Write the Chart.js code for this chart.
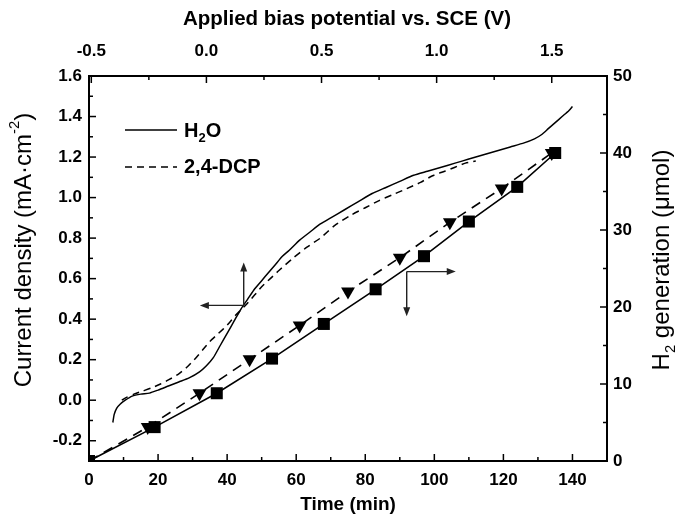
<!DOCTYPE html>
<html>
<head>
<meta charset="utf-8">
<script src="https://cdn.jsdelivr.net/npm/chart.js@4.4.0/dist/chart.umd.min.js"></script>
<style>
html, body { margin: 0; padding: 0; background: #fff; }
</style>
</head>
<body>
<canvas id="chart" width="677" height="517"></canvas>
<script>
// current density curves (mA/cm2) vs time (min)
const h2oTime = [6.9, 7.3, 8, 9, 10.5, 12.5, 15, 17.5, 20, 23, 26, 29, 32, 34, 36, 38, 40, 42, 44, 46, 48, 50, 52, 54, 56, 58, 61, 64, 67, 70, 74, 78, 82, 86, 90, 94, 98, 102, 106, 110, 114, 118, 122, 126, 129, 131, 133, 135, 137, 139, 140];
const h2oCurrent = [-0.11, -0.07, -0.04, -0.02, 0.0, 0.02, 0.03, 0.035, 0.05, 0.07, 0.09, 0.11, 0.14, 0.17, 0.21, 0.27, 0.33, 0.39, 0.45, 0.50, 0.55, 0.59, 0.63, 0.67, 0.71, 0.74, 0.79, 0.83, 0.87, 0.90, 0.94, 0.98, 1.02, 1.05, 1.08, 1.11, 1.13, 1.15, 1.17, 1.19, 1.21, 1.23, 1.25, 1.27, 1.29, 1.31, 1.34, 1.37, 1.40, 1.43, 1.45];

const dcpTime = [9.5, 11, 13, 15.5, 18, 20.7, 23, 26, 28.5, 31, 33, 35, 37.5, 40, 42.5, 45.4, 48, 50, 52.5, 55, 59, 63, 67, 71, 75.5, 80, 84, 88, 92, 96, 99.5, 103, 106, 109, 112];
const dcpCurrent = [0.0, 0.015, 0.03, 0.045, 0.06, 0.08, 0.10, 0.13, 0.165, 0.21, 0.25, 0.29, 0.33, 0.37, 0.42, 0.47, 0.52, 0.56, 0.60, 0.64, 0.70, 0.754, 0.80, 0.86, 0.91, 0.95, 0.985, 1.015, 1.044, 1.075, 1.108, 1.13, 1.15, 1.17, 1.18];

// H2 generation (umol)
const h2oGasTime = [0, 19, 37, 53, 68, 83, 97, 110, 124, 135];
const h2oGas = [0, 4.4, 8.8, 13.3, 17.8, 22.3, 26.6, 31.1, 35.6, 40.0];
const dcpGasTime = [0, 17, 32, 46.5, 61, 75, 90, 104.5, 119.5, 134];
const dcpGas = [0, 4.4, 8.8, 13.2, 17.6, 22.0, 26.4, 31.0, 35.4, 40.0];

// axis ticks
const timeTicks = [0, 20, 40, 60, 80, 100, 120, 140];
const timeMinor = [10, 30, 50, 70, 90, 110, 130, 150];
const biasTicks = [-0.5, 0.0, 0.5, 1.0, 1.5];
const biasMinor = [-0.25, 0.25, 0.75, 1.25];
const currentTicks = [-0.2, 0.0, 0.2, 0.4, 0.6, 0.8, 1.0, 1.2, 1.4, 1.6];
const currentMinor = [-0.1, 0.1, 0.3, 0.5, 0.7, 0.9, 1.1, 1.3, 1.5];
const gasTicks = [0, 10, 20, 30, 40, 50];
const gasMinor = [5, 15, 25, 35, 45];

const FONT = "'Liberation Sans', Arial, sans-serif";

function pairs(xs, ys) {
    return xs.map((x, i) => ({ x: x, y: ys[i] }));
}

function fixTicks(list) {
    return scale => { scale.ticks = list.map(v => ({ value: v })); };
}

// draws text pieces with sub/superscripts, centred on (x, y)
function drawRuns(ctx, runs, x, y, size, weight, angle) {
    ctx.save();
    ctx.translate(x, y);
    ctx.rotate(angle || 0);
    ctx.textBaseline = 'middle';
    ctx.textAlign = 'left';
    ctx.fillStyle = '#000';
    let total = 0;
    runs.forEach(r => {
        const s = r.s ? size * 0.62 : size;
        ctx.font = `${weight} ${s}px ${FONT}`;
        r.w = ctx.measureText(r.t).width;
        total += r.w;
    });
    let cx = -total / 2;
    runs.forEach(r => {
        const s = r.s ? size * 0.62 : size;
        ctx.font = `${weight} ${s}px ${FONT}`;
        let dy = 0;
        if (r.s === 'sub') dy = size * 0.35;
        if (r.s === 'sup') dy = -size * 0.38;
        ctx.fillText(r.t, cx, dy);
        cx += r.w;
    });
    ctx.restore();
}

function arrowLine(ctx, x1, y1, x2, y2) {
    const a = Math.atan2(y2 - y1, x2 - x1);
    const len = 9, half = 3.5;
    ctx.beginPath();
    ctx.moveTo(x1, y1);
    ctx.lineTo(x2 - Math.cos(a) * len * 0.8, y2 - Math.sin(a) * len * 0.8);
    ctx.stroke();
    ctx.beginPath();
    ctx.moveTo(x2, y2);
    ctx.lineTo(x2 - Math.cos(a) * len - Math.sin(a) * half, y2 - Math.sin(a) * len + Math.cos(a) * half);
    ctx.lineTo(x2 - Math.cos(a) * len + Math.sin(a) * half, y2 - Math.sin(a) * len - Math.cos(a) * half);
    ctx.closePath();
    ctx.fill();
}

const decorPlugin = {
    id: 'decor',
    afterDraw(chart) {
        const ctx = chart.ctx;
        const area = chart.chartArea;
        const s = chart.scales;

        // inward tick marks
        ctx.save();
        ctx.strokeStyle = '#000';
        ctx.lineWidth = 1.5;
        const marks = (scale, values, len) => {
            values.forEach(v => {
                const p = scale.getPixelForValue(v);
                ctx.beginPath();
                if (scale.position === 'bottom') { ctx.moveTo(p, area.bottom); ctx.lineTo(p, area.bottom - len); }
                if (scale.position === 'top') { ctx.moveTo(p, area.top); ctx.lineTo(p, area.top + len); }
                if (scale.position === 'left') { ctx.moveTo(area.left, p); ctx.lineTo(area.left + len, p); }
                if (scale.position === 'right') { ctx.moveTo(area.right, p); ctx.lineTo(area.right - len, p); }
                ctx.stroke();
            });
        };
        marks(s.x, timeTicks, 7); marks(s.x, timeMinor, 4);
        marks(s.x2, biasTicks, 7); marks(s.x2, biasMinor, 4);
        marks(s.y, currentTicks, 7); marks(s.y, currentMinor, 4);
        marks(s.y2, gasTicks, 7); marks(s.y2, gasMinor, 4);
        ctx.restore();

        // legend
        ctx.save();
        ctx.strokeStyle = '#000';
        ctx.lineWidth = 1.5;
        ctx.beginPath(); ctx.moveTo(125, 130); ctx.lineTo(177, 130); ctx.stroke();
        ctx.setLineDash([7, 5]);
        ctx.beginPath(); ctx.moveTo(125, 167); ctx.lineTo(177, 167); ctx.stroke();
        ctx.restore();
        ctx.save();
        ctx.fillStyle = '#000';
        ctx.font = `bold 20px ${FONT}`;
        ctx.textBaseline = 'middle';
        ctx.fillText('H', 184, 131);
        const hw = ctx.measureText('H').width;
        ctx.font = `bold 13px ${FONT}`;
        ctx.fillText('2', 184 + hw, 138);
        const sw = ctx.measureText('2').width;
        ctx.font = `bold 20px ${FONT}`;
        ctx.fillText('O', 184 + hw + sw, 131);
        ctx.fillText('2,4-DCP', 184, 167);
        ctx.restore();

        // direction arrows
        ctx.save();
        ctx.strokeStyle = '#222';
        ctx.fillStyle = '#222';
        ctx.lineWidth = 1.4;
        const cx1 = s.x.getPixelForValue(44.8), cy1 = s.y.getPixelForValue(0.468);
        arrowLine(ctx, cx1, cy1, cx1, s.y.getPixelForValue(0.68));
        arrowLine(ctx, cx1, cy1, s.x.getPixelForValue(32.1), cy1);
        const cx2 = s.x.getPixelForValue(92), cy2 = s.y2.getPixelForValue(24.6);
        arrowLine(ctx, cx2, cy2, s.x.getPixelForValue(106.2), cy2);
        arrowLine(ctx, cx2, cy2, cx2, s.y2.getPixelForValue(18.8));
        ctx.restore();

        // axis titles
        drawRuns(ctx, [{ t: 'Applied bias potential vs. SCE (V)' }], 347, 19, 20.5, 'bold', 0);
        drawRuns(ctx, [{ t: 'Time (min)' }], 348, 505, 19, 'bold', 0);
        drawRuns(ctx, [{ t: 'Current density (mA\u00b7cm' }, { t: '-2', s: 'sup' }, { t: ')' }], 24, 250, 24, 'normal', -Math.PI / 2);
        drawRuns(ctx, [{ t: 'H' }, { t: '2', s: 'sub' }, { t: ' generation (\u03bcmol)' }], 662, 260, 24, 'normal', -Math.PI / 2);
    }
};

const tickFont = { family: FONT, size: 17, weight: 'bold' };
const border = { display: true, width: 2, color: '#000' };
const noGrid = { display: false, drawTicks: false };

new Chart(document.getElementById('chart').getContext('2d'), {
    type: 'scatter',
    data: {
        datasets: [
            {
                label: 'H2O current',
                data: pairs(h2oTime, h2oCurrent),
                xAxisID: 'x', yAxisID: 'y',
                showLine: true, borderColor: '#000', borderWidth: 1.5,
                pointRadius: 0, tension: 0.2
            },
            {
                label: '2,4-DCP current',
                data: pairs(dcpTime, dcpCurrent),
                xAxisID: 'x', yAxisID: 'y',
                showLine: true, borderColor: '#000', borderWidth: 1.5, borderDash: [7, 5],
                pointRadius: 0, tension: 0.2
            },
            {
                label: 'H2O H2',
                data: pairs(h2oGasTime, h2oGas),
                xAxisID: 'x', yAxisID: 'y2',
                showLine: true, borderColor: '#000', borderWidth: 1.6,
                pointStyle: 'rect', pointRadius: 8.5,
                pointBackgroundColor: '#000', pointBorderColor: '#000', pointBorderWidth: 0
            },
            {
                label: '2,4-DCP H2',
                data: pairs(dcpGasTime, dcpGas),
                xAxisID: 'x', yAxisID: 'y2',
                showLine: true, borderColor: '#000', borderWidth: 1.6, borderDash: [10, 7],
                pointStyle: 'triangle', pointRotation: 180,
                pointRadius: ctx => ctx.dataIndex === 0 ? 0 : 8,
                pointBackgroundColor: '#000', pointBorderColor: '#000', pointBorderWidth: 0
            }
        ]
    },
    options: {
        responsive: false,
        animation: false,
        layout: { padding: 0 },
        plugins: {
            legend: { display: false },
            tooltip: { enabled: false }
        },
        scales: {
            x: {
                type: 'linear', position: 'bottom', min: 0, max: 150,
                grid: noGrid, border: border,
                ticks: { color: '#000', font: tickFont, padding: 9, maxRotation: 0, autoSkip: false, callback: v => String(v) },
                afterBuildTicks: fixTicks(timeTicks),
                afterFit: sc => { sc.height = 56; }
            },
            x2: {
                type: 'linear', position: 'top', min: -0.51, max: 1.74,
                grid: noGrid, border: border,
                ticks: { color: '#000', font: tickFont, padding: 14, maxRotation: 0, autoSkip: false, callback: v => v.toFixed(1) },
                afterBuildTicks: fixTicks(biasTicks),
                afterFit: sc => { sc.height = 76; }
            },
            y: {
                type: 'linear', position: 'left', min: -0.3, max: 1.6,
                grid: noGrid, border: border,
                ticks: { color: '#000', font: tickFont, padding: 7, autoSkip: false, callback: v => v.toFixed(1) },
                afterBuildTicks: fixTicks(currentTicks),
                afterFit: sc => { sc.width = 89; }
            },
            y2: {
                type: 'linear', position: 'right', min: 0, max: 50,
                grid: noGrid, border: border,
                ticks: { color: '#000', font: tickFont, padding: 6, autoSkip: false, callback: v => String(v) },
                afterBuildTicks: fixTicks(gasTicks),
                afterFit: sc => { sc.width = 70; }
            }
        }
    },
    plugins: [decorPlugin]
});
</script>
</body>
</html>
